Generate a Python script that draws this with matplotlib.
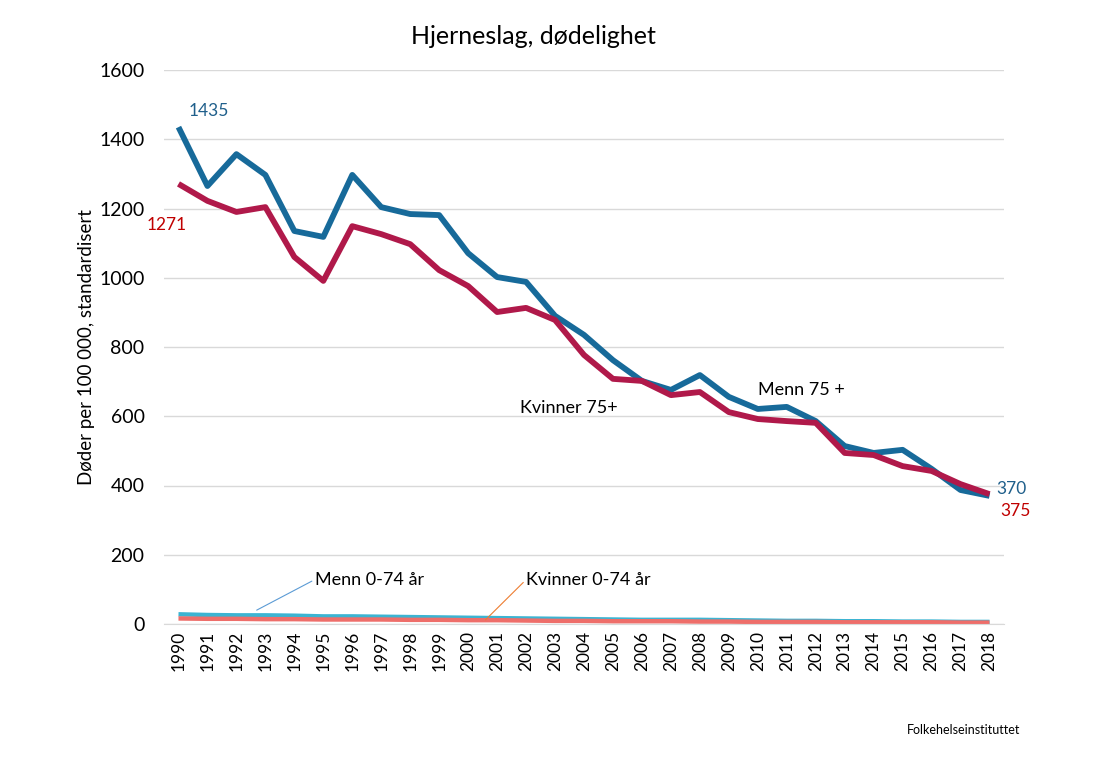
import numpy as np
import matplotlib.pyplot as plt

plt.rcParams['font.family'] = ['Lato', 'DejaVu Sans']

years = list(range(1990, 2019))

menn_75 = [1435, 1265, 1357, 1297, 1135, 1118, 1297, 1204, 1184, 1181,
           1071, 1002, 988, 890, 835, 762, 702, 676, 719, 656,
           621, 627, 586, 514, 494, 503, 448, 387, 370]
kvinner_75 = [1271, 1222, 1190, 1204, 1060, 991, 1149, 1126, 1097, 1022,
              976, 901, 913, 878, 777, 708, 702, 661, 670, 612,
              592, 586, 581, 494, 488, 456, 442, 404, 375]
menn_074 = [28, 26, 25, 25, 24, 22, 22, 21, 20, 19,
            18, 17, 16, 15, 14, 13, 12, 12, 12, 11,
            10, 9, 9, 8, 8, 7, 7, 6, 6]
kvinner_074 = [16, 15, 15, 14, 14, 13, 13, 13, 12, 12,
               11, 11, 10, 9, 9, 8, 8, 8, 7, 7,
               6, 6, 6, 5, 5, 5, 5, 4, 4]

c_menn = '#176a9a'
c_kvinner = '#b0194a'
c_menn_lo = '#3cb4d2'
c_kvinner_lo = '#ee6e6a'

fig = plt.figure(figsize=(10.98, 7.57), dpi=100)
ax = fig.add_axes([164 / 1098, 133 / 757, 840 / 1098, 554 / 757])

ax.plot(years, menn_074, color=c_menn_lo, lw=3.2, solid_capstyle='butt')
ax.plot(years, kvinner_074, color=c_kvinner_lo, lw=3.2, solid_capstyle='butt')
ax.plot(years, menn_75, color=c_menn, lw=4.2, solid_capstyle='butt')
ax.plot(years, kvinner_75, color=c_kvinner, lw=4.2, solid_capstyle='butt')

ax.set_xlim(1989.5, 2018.5)
ax.set_ylim(0, 1600)
ax.set_yticks(range(0, 1601, 200))
ax.set_xticks(years)
ax.set_xticklabels([str(y) for y in years], rotation=90, fontsize=12.5)
ax.tick_params(axis='y', labelsize=14, length=0, pad=14)
ax.tick_params(axis='x', length=0, pad=5)
ax.grid(axis='y', color='#d9d9d9', lw=1)
ax.set_axisbelow(True)
for s in ['top', 'right', 'left']:
    ax.spines[s].set_visible(False)
ax.spines['bottom'].set_color('#d9d9d9')

ax.set_ylabel('Døder per 100 000, standardisert', fontsize=13.5, labelpad=3)
fig.text(533 / 1098, 1 - 36 / 757, 'Hjerneslag, dødelighet', fontsize=18,
         ha='center', va='center')

# end labels
ax.annotate(str(menn_75[0]), (years[0], menn_75[0]), xytext=(7, 8),
            textcoords='offset points', color='#1f5f8b', fontsize=12.5)
ax.annotate(str(kvinner_75[0]), (years[0], kvinner_75[0]), xytext=(-23, -33),
            textcoords='offset points', color='#c00000', fontsize=12.5)
ax.annotate(str(menn_75[-1]), (years[-1], menn_75[-1]), xytext=(5, 1),
            textcoords='offset points', color='#1f5f8b', fontsize=12.5)
ax.annotate(str(kvinner_75[-1]), (years[-1], kvinner_75[-1]), xytext=(8, -16),
            textcoords='offset points', color='#c00000', fontsize=12.5)

ax.text(2001.8, 623, 'Kvinner 75+', fontsize=13, va='center')
ax.text(2010.0, 675, 'Menn 75 +', fontsize=13, va='center')

ax.annotate('Menn 0-74 år', (1992.7, 40), xytext=(1994.7, 128),
            fontsize=13, va='center',
            arrowprops=dict(arrowstyle='-', color='#5b9bd5', lw=0.8,
                            shrinkA=0, shrinkB=0, relpos=(0, 0.5)))
ax.annotate('Kvinner 0-74 år', (2000.6, 12), xytext=(2002.0, 128),
            fontsize=13, va='center',
            arrowprops=dict(arrowstyle='-', color='#ed7d31', lw=0.8,
                            shrinkA=0, shrinkB=0, relpos=(0, 0.5)))

fig.text(1020 / 1098, 1 - 730 / 757, 'Folkehelseinstituttet', fontsize=9,
         ha='right', va='center')

fig.savefig('out.png', dpi=100)
